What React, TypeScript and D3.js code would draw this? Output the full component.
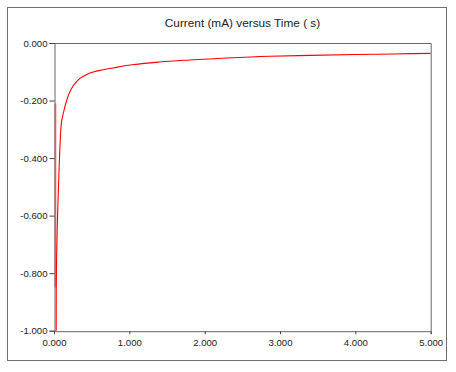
import React, { useEffect, useRef } from 'react';
import * as d3 from 'd3';

// time (s) and current (mA)
const timeValues = [
  0.029, 0.03, 0.057, 0.07, 0.093, 0.123, 0.168, 0.2, 0.235, 0.29, 0.345, 0.43, 0.52, 0.65,
  0.8, 1.06, 1.4, 1.8, 2.3, 2.87, 3.4, 4.0, 4.5, 5.0,
];
const currentValues = [
  -1.0, -0.85, -0.52, -0.42, -0.29, -0.245, -0.2, -0.176, -0.157, -0.137, -0.123, -0.11,
  -0.101, -0.093, -0.086, -0.075, -0.066, -0.059, -0.052, -0.046, -0.043, -0.04, -0.038, -0.036,
];
// the faint start-up spike near t = 0
const spikeTime = [0.018, 0.018];
const spikeCurrent = [-0.21, -0.85];

const xTicks = [0, 1, 2, 3, 4, 5];
const yTicks = [0, -0.2, -0.4, -0.6, -0.8, -1.0];
const title = 'Current (mA) versus Time ( s)';

const App: React.FC = () => {
  const svgRef = useRef<SVGSVGElement>(null);

  useEffect(() => {
    if (!svgRef.current) return;
    d3.select(svgRef.current).selectAll('*').remove();

    const svgWidth = 456;
    const svgHeight = 372;
    const margin = { top: 43, right: 25.3, bottom: 41.3, left: 54 };
    const width = svgWidth - margin.left - margin.right;
    const height = svgHeight - margin.top - margin.bottom;
    const font = 'Arial, "Liberation Sans", sans-serif';

    const svg = d3.select(svgRef.current)
      .attr('width', svgWidth)
      .attr('height', svgHeight);

    svg.append('rect')
      .attr('width', svgWidth)
      .attr('height', svgHeight)
      .attr('fill', '#ffffff');

    // outer frame
    svg.append('rect')
      .attr('x', 7.5)
      .attr('y', 7.5)
      .attr('width', 439)
      .attr('height', 353)
      .attr('fill', 'none')
      .attr('stroke', '#707070')
      .attr('stroke-width', 1);

    // title
    svg.append('text')
      .attr('x', 242.5)
      .attr('y', 27)
      .attr('text-anchor', 'middle')
      .style('font-family', font)
      .style('font-size', '11.8px')
      .attr('fill', '#222')
      .text(title);

    const g = svg.append('g')
      .attr('transform', `translate(${margin.left},${margin.top})`);

    const xScale = d3.scaleLinear().domain([0, 5]).range([0, width]);
    const yScale = d3.scaleLinear().domain([-1, 0]).range([height, 0]);

    // top and right border of the plot
    g.append('path')
      .attr('d', `M0.5,0.5H${width + 0.5}V${height + 0.5}`)
      .attr('fill', 'none')
      .attr('stroke', '#666')
      .attr('stroke-width', 1);

    // clip for the curve (in the plot group's coords)
    svg.append('defs').append('clipPath')
      .attr('id', 'plot-clip')
      .append('rect')
      .attr('width', width)
      .attr('height', height + 1);

    const spikeLine = d3.line<[number, number]>()
      .x(d => xScale(d[0]))
      .y(d => yScale(d[1]));
    const line = d3.line<[number, number]>()
      .x(d => xScale(d[0]))
      .y(d => yScale(d[1]))
      .curve(d3.curveMonotoneX);

    const spike: [number, number][] = spikeTime.map((t, i) => [t, spikeCurrent[i]]);
    const curve: [number, number][] = timeValues.map((t, i) => [t, currentValues[i]]);

    const plot = g.append('g').attr('clip-path', 'url(#plot-clip)');
    plot.append('path')
      .datum(spike)
      .attr('fill', 'none')
      .attr('stroke', '#ff8080')
      .attr('stroke-width', 2)
      .attr('d', spikeLine);
    plot.append('path')
      .datum(curve)
      .attr('fill', 'none')
      .attr('stroke', '#ff0000')
      .attr('stroke-width', 1.1)
      .attr('d', line);

    // y axis
    const yAxis = g.append('g')
      .attr('transform', 'translate(0.5,0)')
      .call(
        d3.axisLeft(yScale)
          .tickValues(yTicks)
          .tickSize(5)
          .tickPadding(2)
          .tickFormat(d => d3.format('.3f')(d as number).replace('−', '-'))
      );
    yAxis.select('.domain').attr('stroke', '#666');
    yAxis.selectAll('line').attr('stroke', '#444');
    yAxis.selectAll('text')
      .style('font-family', font)
      .style('font-size', '9.6px')
      .attr('fill', '#222');

    // x axis
    const xAxis = g.append('g')
      .attr('transform', `translate(0,${height + 0.5})`)
      .call(
        d3.axisBottom(xScale)
          .tickValues(xTicks)
          .tickSize(3)
          .tickPadding(5)
          .tickFormat(d => d3.format('.3f')(d as number))
      );
    xAxis.select('.domain').attr('stroke', '#666');
    xAxis.selectAll('line').attr('stroke', '#444');
    xAxis.selectAll('text')
      .style('font-family', font)
      .style('font-size', '9.6px')
      .attr('fill', '#222');
  }, []);

  return (
    <svg
      ref={svgRef}
      style={{ position: 'absolute', left: 0, top: 0, display: 'block' }}
    />
  );
};

export default App;
